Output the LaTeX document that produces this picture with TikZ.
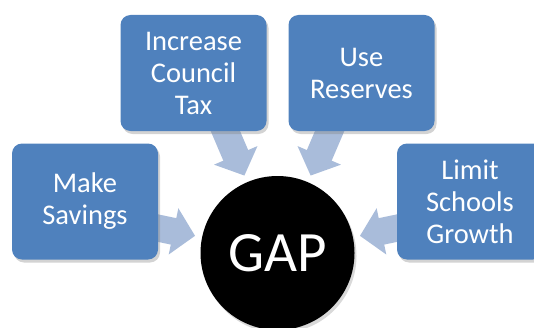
\documentclass[tikz,border=0pt]{standalone}
\usepackage{fontspec}
\setmainfont{Carlito}
\usetikzlibrary{arrows.meta,shadows,backgrounds}
\definecolor{boxblue}{HTML}{4F81BD}
\definecolor{feedblue}{HTML}{A9BCDA}
\tikzset{
	option/.style={rounded corners=10pt, fill=boxblue, text=white, minimum width=146pt, minimum height=116pt, align=center, font=\fontsize{28.5}{32}\selectfont, drop shadow={shadow xshift=2pt, shadow yshift=-3pt, opacity=0.35}},
	feed/.style={draw=feedblue, line width=27pt, -{Triangle[length=22pt 0 0, width=46pt 0 0]}, shorten >=7pt}
}
\begin{document}
\begin{tikzpicture}[x=1pt,y=1pt]
				\useasboundingbox (0,0) rectangle (534,327);
				
				\node[option] (save) at (85,125.5) {Make\\Savings};
				\node[option] (tax) at (193.5,254) {Increase\\Council\\Tax};
				\node[option] (res) at (361.5,254) {Use\\Reserves};
				\node[option] (limit) at (470,125.5) {Limit\\Schools\\Growth};
				
				\node[circle, fill=black, text=white, minimum size=154pt, font=\fontsize{57}{60}\selectfont, drop shadow={shadow xshift=2pt, shadow yshift=-3pt, opacity=0.3}] (gap) at (277.5,74) {GAP};
				
				\begin{scope}[on background layer]
					\draw[feed] ([xshift=-8pt,yshift=-25pt]save.east) -- (gap);
					\draw[feed] ([xshift=28.5pt,yshift=8pt]tax.south) -- (gap);
					\draw[feed] ([xshift=-28.5pt,yshift=8pt]res.south) -- (gap);
					\draw[feed] ([xshift=8pt,yshift=-25pt]limit.west) -- (gap);
				\end{scope}
\end{tikzpicture}
\end{document}
